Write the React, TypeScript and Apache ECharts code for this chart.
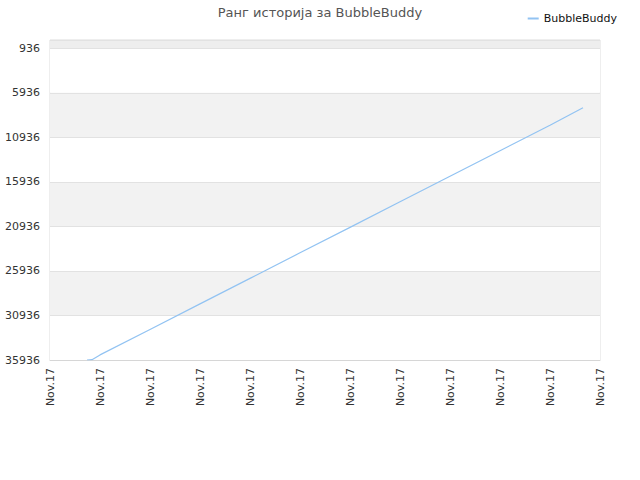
import { useEffect, useRef } from "react";
import * as echarts from "echarts";

const title = "Ранг историја за BubbleBuddy";
const seriesName = "BubbleBuddy";
const xTickLabel = "Nov.17";
// position along the time axis (one unit per label step)
const dayPos = [0.74, 0.84, 1, 2, 3, 4, 5, 6, 7, 8, 9, 10, 10.66];
// rank values
const ranks = [35936, 35900, 35364, 32503, 29632, 26771, 23899, 21039, 18167, 15306, 12435, 9574, 7600];
const rankOffset = 936;
const rankMin = 1;
const rankMax = 35936;

function App() {
    const ref = useRef<HTMLDivElement>(null);

    useEffect(() => {
        if (!ref.current) return;
        const chart = echarts.init(ref.current, undefined, { renderer: "svg" });
        const font = "DejaVu Sans";

        chart.setOption({
            animation: false,
            backgroundColor: "#ffffff",
            title: {
                text: title,
                left: "center",
                top: 1,
                textStyle: { fontFamily: font, fontSize: 13, fontWeight: "normal", color: "#555555" },
            },
            legend: {
                right: 18,
                top: 8,
                icon: "rect",
                itemWidth: 11,
                itemHeight: 2,
                itemGap: 8,
                textStyle: { fontFamily: font, fontSize: 11, color: "#111111" },
                data: [seriesName],
            },
            grid: {
                left: 50,
                right: 40,
                top: 40,
                bottom: 120,
                show: true,
                borderColor: "#dddddd",
                borderWidth: 1,
            },
            xAxis: {
                type: "value",
                min: 0,
                max: 11,
                interval: 1,
                axisLine: { onZero: false, lineStyle: { color: "#d6d6d6" } },
                axisTick: { show: false },
                splitLine: { show: false },
                axisLabel: {
                    rotate: 90,
                    margin: 8,
                    fontFamily: font,
                    fontSize: 11,
                    color: "#333333",
                    formatter: () => xTickLabel,
                },
            },
            yAxis: {
                type: "value",
                inverse: true,
                min: rankMin - rankOffset,
                max: rankMax - rankOffset,
                splitNumber: 7,
                axisLine: { show: false },
                axisTick: { show: false },
                splitLine: { lineStyle: { color: "#e2e2e2" } },
                splitArea: {
                    show: true,
                    areaStyle: {
                        color: ["#eeeeee", "#ffffff", "#f2f2f2", "#ffffff", "#f2f2f2", "#ffffff", "#f2f2f2", "#ffffff"],
                    },
                },
                axisLabel: {
                    fontFamily: font,
                    fontSize: 11,
                    color: "#333333",
                    margin: 10,
                    formatter: (v: number) => (v < 0 ? "" : String(v + rankOffset)),
                },
            },
            series: [
                {
                    name: seriesName,
                    type: "line",
                    showSymbol: false,
                    symbol: "none",
                    color: "#92c3f2",
                    lineStyle: { color: "#92c3f2", width: 1.2 },
                    data: dayPos.map((d, i) => [d, ranks[i] - rankOffset]),
                },
            ],
        });

        return () => {
            chart.dispose();
        };
    }, []);

    return (
        <div
            ref={ref}
            style={{ position: "fixed", left: 0, top: 0, width: "640px", height: "480px" }}
        />
    );
}

export default App;
